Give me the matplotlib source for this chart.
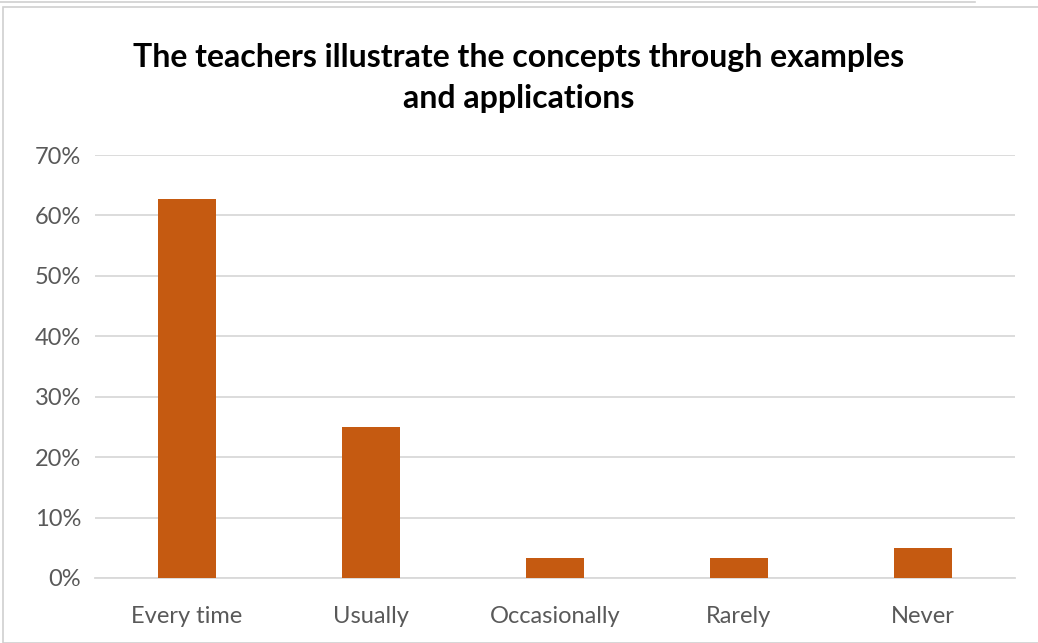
import matplotlib
matplotlib.use("Agg")
import matplotlib.pyplot as plt
from matplotlib.ticker import FuncFormatter
from matplotlib.patches import Rectangle

categories = ["Every time", "Usually", "Occasionally", "Rarely", "Never"]
values = [0.627, 0.25, 0.033, 0.033, 0.05]
yticks = [0, 0.1, 0.2, 0.3, 0.4, 0.5, 0.6, 0.7]
title = "The teachers illustrate the concepts through examples\nand applications"

plt.rcParams['font.family'] = ['Lato', 'DejaVu Sans']

W, H = 1038, 643
fig = plt.figure(figsize=(W/100, H/100), dpi=100)
ax = fig.add_axes([95/W, (H-578)/H, 920/W, 423/H])

x = range(len(categories))
ax.bar(x, values, width=0.315, color="#C55A11", zorder=3)
ax.set_xlim(-0.5, len(categories)-0.5)
ax.set_ylim(0, 0.7)
ax.set_yticks(yticks)
ax.yaxis.set_major_formatter(FuncFormatter(lambda v, p: f"{v*100:.0f}%"))
ax.set_xticks(list(x))
ax.set_xticklabels(categories)
ax.grid(axis="y", color="#D9D9D9", linewidth=1.3, zorder=0)
for s in ["top", "right", "left"]:
    ax.spines[s].set_visible(False)
ax.spines["bottom"].set_color("#D9D9D9")
ax.spines["bottom"].set_linewidth(1.3)
ax.tick_params(axis="both", length=0, labelsize=17, colors="#595959")
ax.tick_params(axis="x", pad=20)
ax.tick_params(axis="y", pad=10)

fig.text(0.5, 1 - 78/H, title, ha="center", va="center", fontsize=23,
         fontweight="bold", color="black", linespacing=1.5)

# outer chart border
fig.add_artist(Rectangle((3/W, 0), 1.1, 1 - 7/H, transform=fig.transFigure,
                         fill=False, edgecolor="#D0D0D0", linewidth=1.2))
fig.add_artist(plt.Line2D([0, 975/W], [1 - 1.5/H, 1 - 1.5/H], transform=fig.transFigure,
                          color="#D0D0D0", linewidth=1.2))

fig.savefig("out.png", dpi=100)
